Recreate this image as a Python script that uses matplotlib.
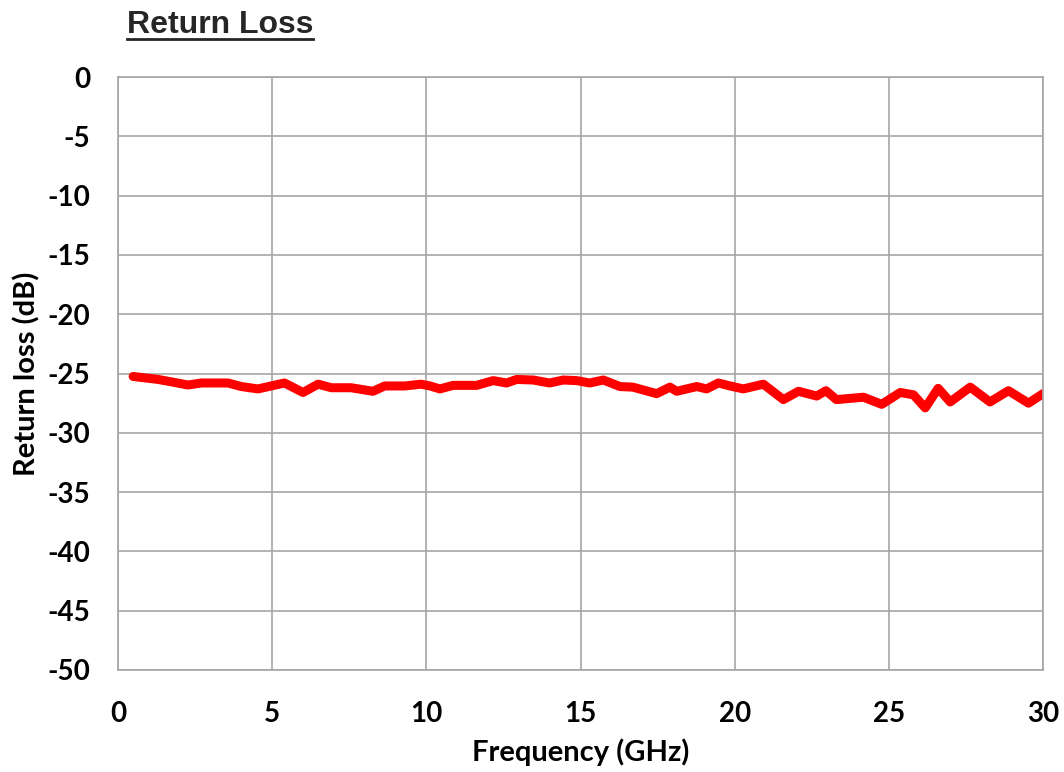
import matplotlib
matplotlib.use("Agg")
import matplotlib.pyplot as plt
from matplotlib.lines import Line2D

# Return loss trace
freq_ghz = [0.49, 1.3, 1.72, 2.27, 2.7, 3.13, 3.57, 4.0, 4.54, 4.97, 5.4, 6.0, 6.49,
            6.92, 7.56, 8.27, 8.65, 9.3, 9.83, 10.12, 10.44, 10.87, 11.63, 12.17,
            12.6, 12.93, 13.47, 14.0, 14.44, 14.88, 15.3, 15.74, 16.28, 16.7, 17.47,
            17.9, 18.12, 18.77, 19.09, 19.47, 19.85, 20.28, 20.93, 21.58, 22.07,
            22.66, 22.96, 23.3, 24.18, 24.77, 25.37, 25.8, 26.18, 26.6, 26.99,
            27.64, 28.28, 28.88, 29.53, 30.0]
return_loss_db = [-25.25, -25.5, -25.7, -25.97, -25.8, -25.8, -25.8, -26.1, -26.3,
                  -26.05, -25.8, -26.6, -25.9, -26.2, -26.2, -26.5, -26.05, -26.05,
                  -25.9, -26.05, -26.3, -26.0, -26.0, -25.6, -25.8, -25.5, -25.55,
                  -25.8, -25.55, -25.6, -25.8, -25.55, -26.1, -26.15, -26.7, -26.15,
                  -26.5, -26.1, -26.3, -25.8, -26.05, -26.3, -25.9, -27.2, -26.5,
                  -26.9, -26.45, -27.2, -27.0, -27.6, -26.6, -26.8, -27.9, -26.25,
                  -27.4, -26.15, -27.4, -26.45, -27.5, -26.7]

x_ticks = [0, 5, 10, 15, 20, 25, 30]
y_ticks = list(range(-50, 1, 5))

plt.rcParams["font.family"] = ["Lato", "DejaVu Sans"]
plt.rcParams["axes.unicode_minus"] = False

fig = plt.figure(figsize=(10.64, 7.72), dpi=100)
ax = fig.add_axes([118 / 1064, 1 - 670 / 772, (1043 - 118) / 1064, (670 - 77) / 772])

ax.plot(freq_ghz, return_loss_db, color="#ff0000", linewidth=6.5,
        solid_capstyle="round", solid_joinstyle="round")

ax.set_xlim(0, 30)
ax.set_ylim(-50, 0)
ax.set_xticks(x_ticks)
ax.set_yticks(y_ticks)
ax.tick_params(axis="x", length=0, labelsize=20, pad=22)
ax.tick_params(axis="y", length=0, labelsize=20, pad=20)
for lbl in ax.get_xticklabels() + ax.get_yticklabels():
    lbl.set_fontweight("bold")
ax.grid(True, color="#a6a6a6", linewidth=1.2)
for s in ax.spines.values():
    s.set_color("#a6a6a6")
    s.set_linewidth(1.2)

ax.set_xlabel("Frequency (GHz)", fontsize=21, fontweight="bold", va="center")
ax.set_ylabel("Return loss (dB)", fontsize=21, fontweight="bold", va="center")
ax.xaxis.set_label_coords(0.5, (670 - 752) / 593)
ax.yaxis.set_label_coords((27 - 118) / 925, 0.5)

# underlined title
title = fig.text(220 / 1064, 1 - 25 / 772, "Return Loss", fontsize=23, fontweight="bold",
                 color="#262626", ha="center", va="center", family="Liberation Sans")
fig.canvas.draw()
bb = title.get_window_extent().transformed(fig.transFigure.inverted())
uy = 1 - 39 / 772
fig.add_artist(Line2D([bb.x0, bb.x1], [uy, uy], transform=fig.transFigure,
                      color="#262626", linewidth=2))

fig.savefig("out.png", dpi=100)
